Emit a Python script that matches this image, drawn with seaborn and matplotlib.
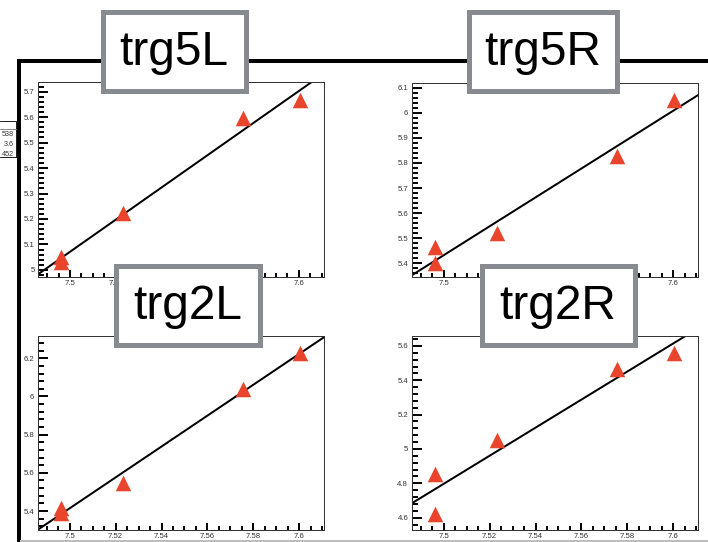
import numpy as np
import pandas as pd
import matplotlib
matplotlib.use("Agg")
import matplotlib.pyplot as plt
from matplotlib.patches import Rectangle
from matplotlib.lines import Line2D
from matplotlib.ticker import MultipleLocator, FuncFormatter
import seaborn as sns

# Scan positions (same five runs for every trigger counter)
run_x = [7.4962, 7.4962, 7.5233, 7.5754, 7.6003]

# Measured response per trigger counter
trg5L_y = [5.050, 5.030, 5.222, 5.595, 5.667]
trg5R_y = [5.464, 5.402, 5.520, 5.828, 6.051]
trg2L_y = [5.415, 5.390, 5.548, 6.038, 6.229]
trg2R_y = [4.853, 4.620, 5.052, 5.464, 5.561]

panel_names = ["trg5L", "trg5R", "trg2L", "trg2R"]
panel_values = [trg5L_y, trg5R_y, trg2L_y, trg2R_y]

x_range = (7.486, 7.611)
y_ranges = [(4.972, 5.738), (5.347, 6.1175), (5.3005, 6.317), (4.528, 5.658)]
y_major_step = [0.1, 0.1, 0.2, 0.2]

stat_lines = ["538", "3.6", "452"]

W, H = 708, 542
DPI = 100
PX = 72.0 / DPI  # points per pixel

sns.set_style("ticks", {"xtick.direction": "in", "ytick.direction": "in"})
plt.rcParams["font.family"] = ["Liberation Sans", "DejaVu Sans"]

fig = plt.figure(figsize=(W / DPI, H / DPI), dpi=DPI)
fig.patch.set_facecolor("white")

# panel frames in pixels: (left, top, right, bottom)
frames = [(38, 82, 324, 277), (411.7, 83.3, 698.3, 276.7),
          (37.7, 336, 324.3, 530), (411.7, 336, 698.3, 530)]

marker_color = "#e9442c"
fmt = FuncFormatter(lambda v, pos: f"{round(v, 4):g}")

for name, yv, (l, t, r, b), yr, ystep in zip(panel_names, panel_values, frames,
                                              y_ranges, y_major_step):
    ax = fig.add_axes([l / W, 1 - b / H, (r - l) / W, (b - t) / H])
    df = pd.DataFrame({"x": run_x, "y": yv})
    ax.set_xlim(*x_range)
    ax.set_ylim(*yr)
    sns.regplot(data=df, x="x", y="y", ax=ax, scatter=False, ci=None,
                truncate=False, color="black", line_kws={"linewidth": 2.0 * PX})
    sns.scatterplot(data=df, x="x", y="y", ax=ax, marker="^", s=125,
                    color=marker_color, linewidth=0, zorder=3)
    ax.set_xlim(*x_range)
    ax.set_ylim(*yr)
    ax.set_xlabel("")
    ax.set_ylabel("")
    ax.xaxis.set_major_locator(MultipleLocator(0.02))
    ax.xaxis.set_minor_locator(MultipleLocator(0.005))
    ax.yaxis.set_major_locator(MultipleLocator(ystep))
    ax.yaxis.set_minor_locator(MultipleLocator(ystep / 5))
    ax.xaxis.set_major_formatter(fmt)
    ax.yaxis.set_major_formatter(fmt)
    ax.tick_params(axis="both", which="both", direction="in", color="black",
                   labelcolor="#333333", labelsize=5.6, width=1.4,
                   left=True, bottom=True, top=False, right=False)
    ax.tick_params(axis="y", which="major", length=7, pad=2.5)
    ax.tick_params(axis="y", which="minor", length=4)
    ax.tick_params(axis="x", which="major", length=5, pad=2.5)
    ax.tick_params(axis="x", which="minor", length=2.8)
    for sp in ax.spines.values():
        sp.set_visible(True)
        sp.set_color("#333333")
        sp.set_linewidth(1.0 * PX)

# canvas overlay in pixel coordinates
ov = fig.add_axes([0, 0, 1, 1], zorder=10)
ov.set_xlim(0, W)
ov.set_ylim(H, 0)
ov.axis("off")
ov.patch.set_alpha(0)

# heavy frame of the canvas
ov.add_line(Line2D([17, W], [61, 61], color="black", linewidth=4 * PX,
                   solid_capstyle="butt"))
ov.add_line(Line2D([19, 19], [59, H], color="black", linewidth=4 * PX,
                   solid_capstyle="butt"))
ov.add_line(Line2D([20, W], [541, 541], color="#bdbdbd", linewidth=2 * PX,
                   solid_capstyle="butt"))

# statistics box peeking in at the left edge
ov.add_line(Line2D([0, 16, 16], [121, 121, 157], color="#222222", linewidth=1 * PX))
ov.add_line(Line2D([0, 16], [129, 129], color="#888888", linewidth=1 * PX))
ov.add_line(Line2D([0, 16], [157, 157], color="#222222", linewidth=1 * PX))
for i, s in enumerate(stat_lines):
    ov.text(14, 134 + i * 10, s, ha="right", va="center", fontsize=5.2,
            color="#333333")

# counter name tags
boxes = [(100, 9, 248, 93), (466, 9, 619, 93), (113, 263, 262, 347), (479, 263, 637, 347)]
bw = 5
for name, (l, t, r, b) in zip(panel_names, boxes):
    ov.add_patch(Rectangle((l + bw / 2, t + bw / 2), r - l - bw, b - t - bw,
                           facecolor="white", edgecolor="#878b90",
                           linewidth=bw * PX, joinstyle="miter", zorder=5))
    ov.text((l + r) / 2, t + 56, name, ha="center", va="baseline",
            fontsize=34.5, color="black", zorder=6,
            family=["Liberation Sans", "DejaVu Sans"])

fig.savefig("out.png", dpi=DPI)
